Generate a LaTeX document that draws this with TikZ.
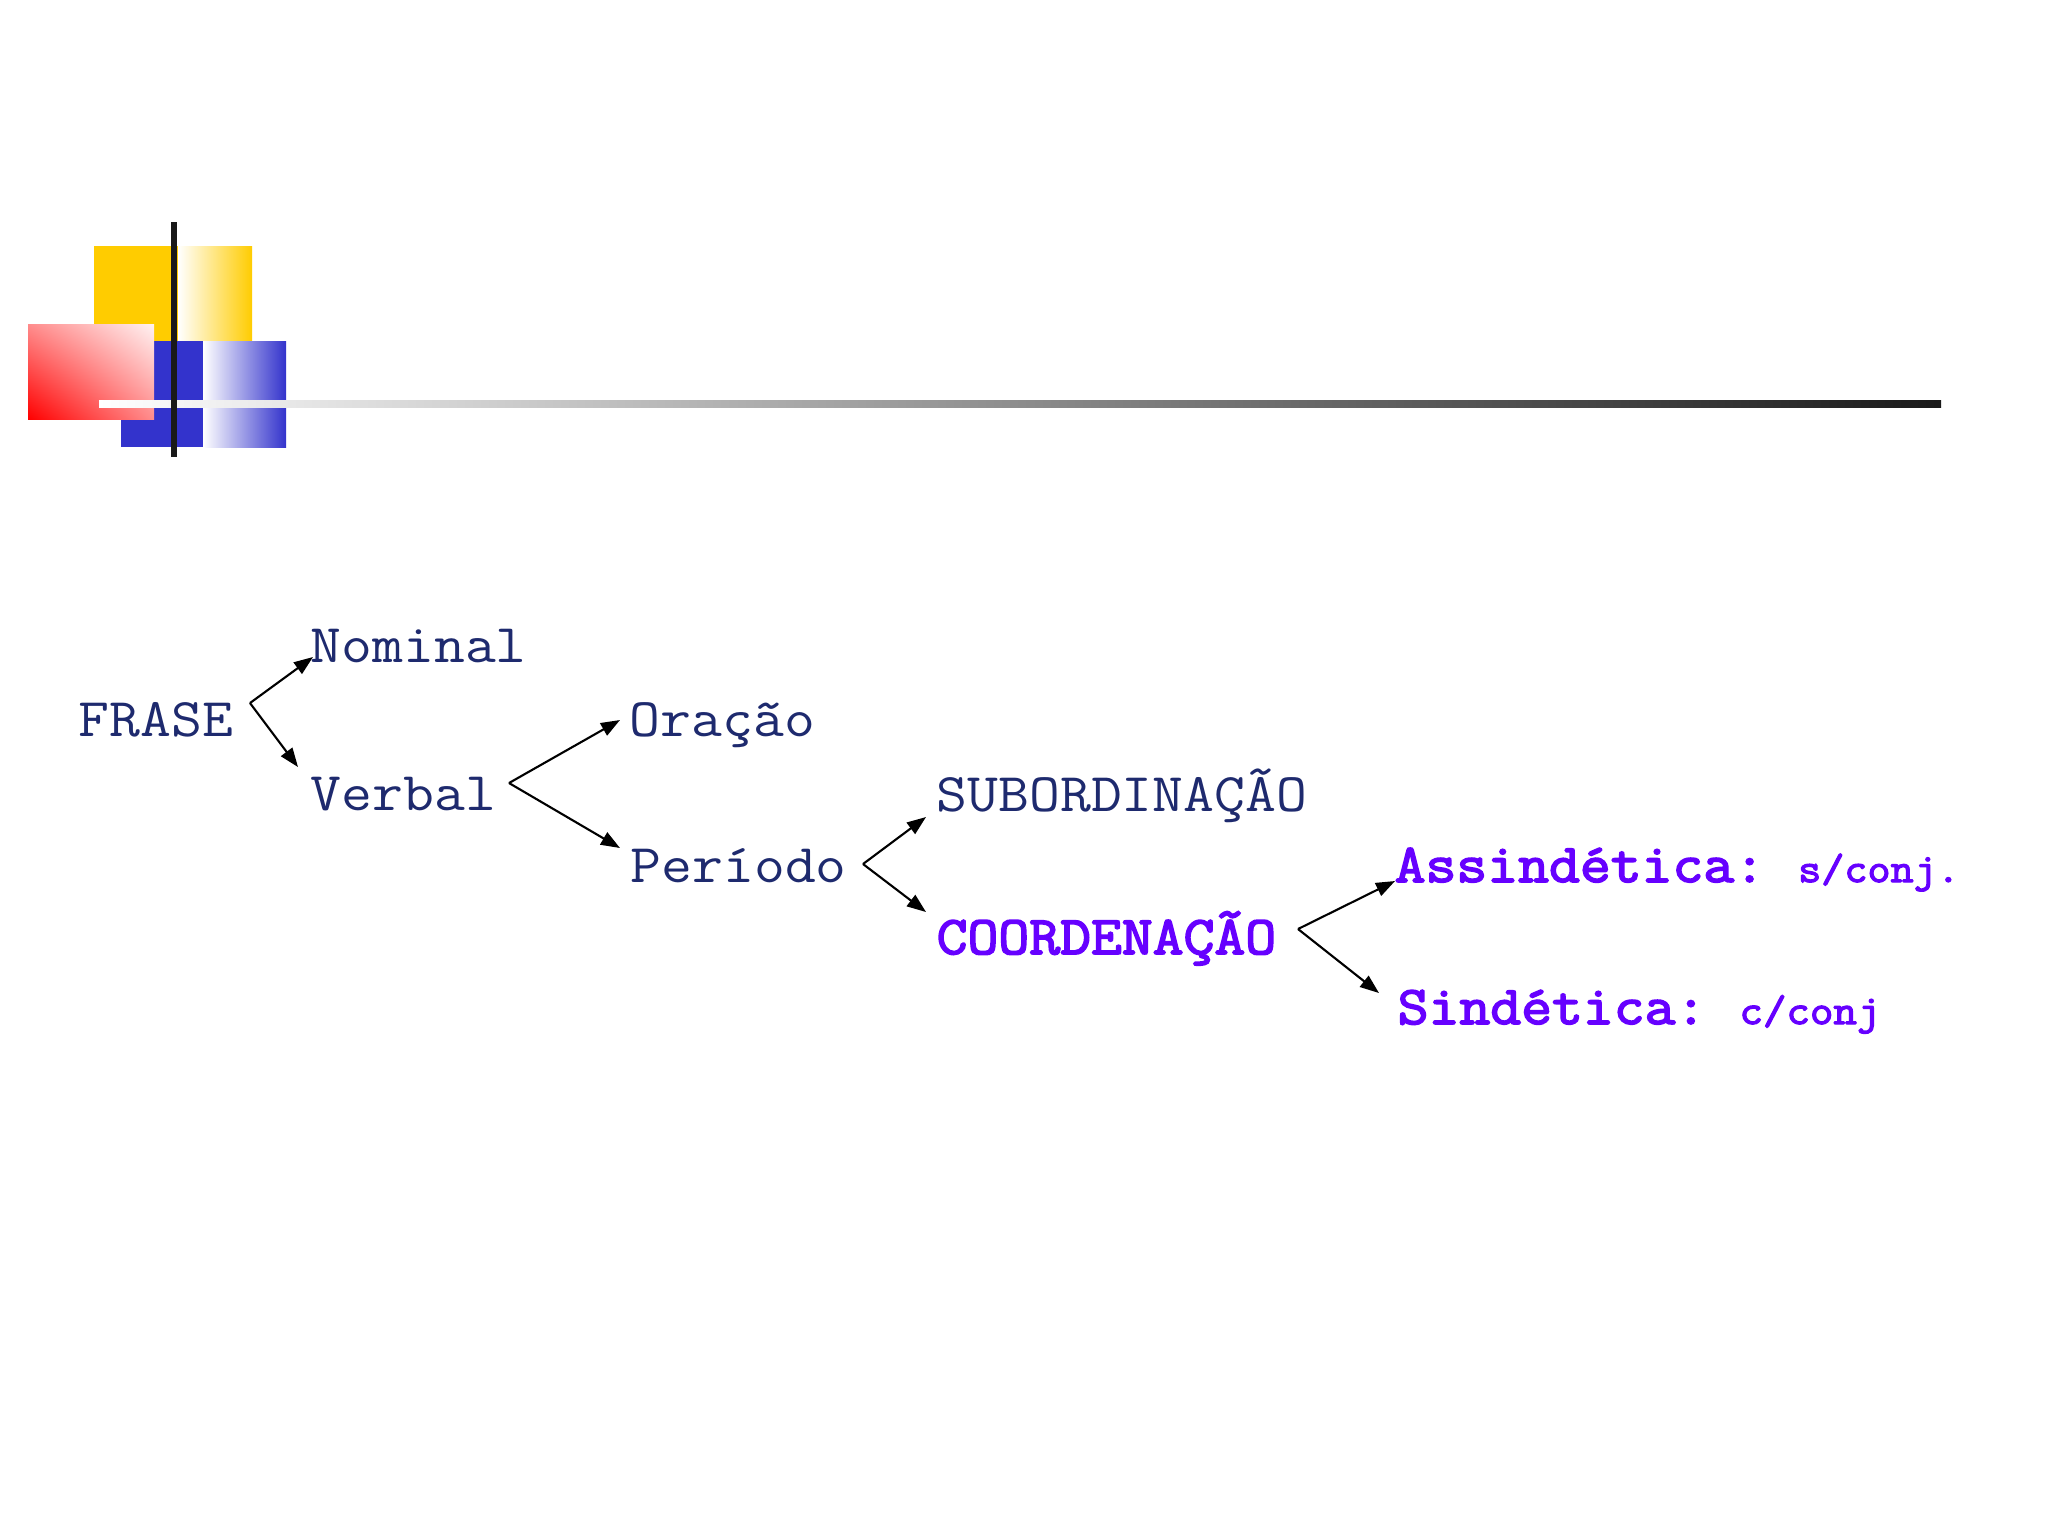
\documentclass[tikz,border=0pt]{standalone}
\usepackage{fontspec}
\usepackage{tikz}
\usetikzlibrary{arrows.meta,shadings}
\newfontfamily\slidefont[FakeStretch=1.1]{lmmono12-regular.otf}
\newfontfamily\slidebold[FakeStretch=1.1,FakeBold=3]{lmmono12-regular.otf}
\definecolor{navy}{RGB}{30,42,110}
\definecolor{coordviolet}{RGB}{102,0,255}
\definecolor{gold}{RGB}{255,204,0}
\definecolor{royal}{RGB}{51,51,204}
\begin{document}
\begin{tikzpicture}[x=0.1mm,y=-0.1mm]
  \tikzstyle{every node}=[inner sep=0, anchor=base west]
  \tikzstyle{plain}=[text=navy, font=\slidefont\fontsize{15.5}{18}\selectfont]
  \tikzstyle{strong}=[text=coordviolet, font=\slidebold\fontsize{15.5}{18}\selectfont]
  \tikzstyle{branch}=[-{Triangle[length=1.9mm,width=1.4mm]}, line width=0.6pt]

  \fill[white] (0,0) rectangle (2048,1536);
  \useasboundingbox (0,0) rectangle (2048,1536);

  % logo
  \fill[gold] (94,246) rectangle (178,341);
  \shade[left color=white, right color=gold] (178,246) rectangle (252,341);
  \fill[royal] (121,341) rectangle (203,447);
  \shade[left color=white, right color=royal] (203,341) rectangle (286,447);
  \shade[upper left=red!45, upper right=red!5, lower left=red, lower right=red!45] (28,324) rectangle (154,419);
  \shade[left color=white, right color=black!90] (99,400) rectangle (1941,407);
  \fill[black!90] (171,222) rectangle (177,457);

  \node[plain] (frase) at (78,736) {FRASE};
  \node[plain] (nominal) at (310,662) {Nominal};
  \node[plain] (verbal) at (310,810) {Verbal};
  \node[plain] (oracao) at (629,736) {Oração};
  \node[plain] (periodo) at (630,882) {Período};
  \node[plain] (subord) at (936,811) {SUBORDINAÇÃO};
  \node[strong] (coord) at (936,954) {COORDENAÇÃO};
  \node[strong] (assind) at (1394,882) {Assindética:\hspace{-0.8mm} {\fontsize{11.6}{14}\selectfont s/conj.}};
  \node[strong] (sind) at (1397,1024) {Sindética:\hspace{-0.8mm} {\fontsize{11.8}{14}\selectfont c/conj}};

  \coordinate (fork1) at (250,703);
  \coordinate (fork2) at (509,783);
  \coordinate (fork3) at (863,864);
  \coordinate (fork4) at (1298,929);

  \draw[branch] (fork1) -- ([shift={(3,-5)}]nominal.base west);
  \draw[branch] (fork1) -- ([shift={(-12,-43)}]verbal.base west);
  \draw[branch] (fork2) -- ([shift={(-9,-16)}]oracao.base west);
  \draw[branch] (fork2) -- ([shift={(-10,-34)}]periodo.base west);
  \draw[branch] (fork3) -- ([shift={(-10,6)}]subord.base west);
  \draw[branch] (fork3) -- ([shift={(-10,-42)}]coord.base west);
  \draw[branch] (fork4) -- ([shift={(1,-1)}]assind.base west);
  \draw[branch] (fork4) -- ([shift={(-18,-31)}]sind.base west);
\end{tikzpicture}
\end{document}
